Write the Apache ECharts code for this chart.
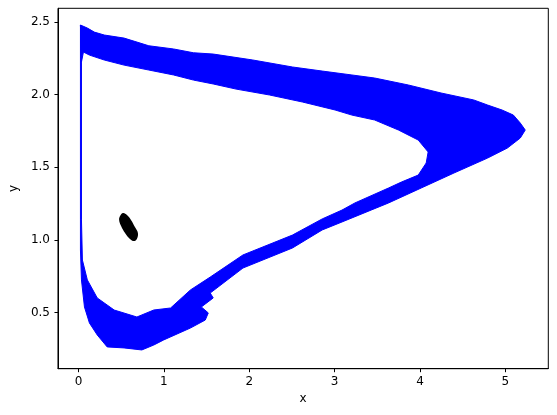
<!DOCTYPE html>
<html>
<head>
<meta charset="utf-8">
<script src="https://cdn.jsdelivr.net/npm/echarts@6/dist/echarts.min.js"></script>
<style>
    html, body { margin: 0; padding: 0; background: #fff; }
    #chart { width: 557px; height: 415px; }
</style>
</head>
<body>
<div id="chart"></div>
<script>
    // outer edge of the blue band (clockwise, from top-left corner)
    var outerX = [0.023, 0.104, 0.186, 0.302, 0.534, 0.824, 1.114, 1.346, 1.578, 2.042, 2.506, 2.854, 3.202, 3.469,
        3.863, 4.246, 4.629, 4.791, 4.960, 5.093, 5.174, 5.232, 5.174, 5.023, 4.791, 4.397, 4.014, 3.631, 3.086, 2.854,
        2.506, 1.926, 1.543, 1.578, 1.439, 1.520, 1.485, 1.311, 0.998, 0.882, 0.742, 0.534, 0.336, 0.220, 0.128,
        0.070, 0.035, 0.023, 0.023];
    var outerY = [2.480, 2.459, 2.431, 2.411, 2.390, 2.337, 2.315, 2.289, 2.280, 2.239, 2.191, 2.163, 2.136, 2.115,
        2.067, 2.012, 1.964, 1.929, 1.895, 1.860, 1.805, 1.757, 1.702, 1.633, 1.564, 1.461, 1.358, 1.255, 1.124, 1.069,
        0.945, 0.807, 0.635, 0.601, 0.539, 0.498, 0.449, 0.394, 0.312, 0.277, 0.243, 0.257, 0.264, 0.346, 0.429,
        0.539, 0.725, 0.931, 1.138];

    // inner edge of the band (same direction, reversed when drawn)
    var innerX = [0.058, 0.128, 0.302, 0.534, 0.824, 1.114, 1.346, 1.578, 1.845, 2.239, 2.622, 3.005, 3.202, 3.469,
        3.747, 3.979, 4.095, 4.072, 3.979, 3.782, 3.631, 3.237, 3.086, 2.854, 2.506, 1.926, 1.543, 1.311, 1.079,
        0.882, 0.684, 0.418, 0.220, 0.104, 0.046, 0.035, 0.035];
    var innerY = [2.294, 2.273, 2.239, 2.204, 2.170, 2.136, 2.101, 2.074, 2.039, 1.998, 1.950, 1.895, 1.860, 1.826,
        1.757, 1.688, 1.606, 1.530, 1.447, 1.399, 1.358, 1.255, 1.206, 1.145, 1.034, 0.897, 0.745, 0.656, 0.532,
        0.518, 0.470, 0.518, 0.601, 0.725, 0.862, 1.138, 2.225];

    // small black blob near the equilibrium
    var blobX = [0.487, 0.522, 0.568, 0.615, 0.661, 0.696, 0.684, 0.650, 0.603, 0.545, 0.499, 0.476];
    var blobY = [1.165, 1.186, 1.172, 1.138, 1.089, 1.048, 1.007, 0.993, 1.007, 1.048, 1.096, 1.138];

    var xTicks = [0, 1, 2, 3, 4, 5];
    var yTicks = [0.5, 1.0, 1.5, 2.0, 2.5];

    function toPoints(api, xs, ys) {
        var pts = [];
        for (var i = 0; i < xs.length; i++) {
            pts.push(api.coord([xs[i], ys[i]]));
        }
        return pts;
    }

    var dom = document.getElementById("chart");
    var myChart = echarts.init(dom, null, {renderer: 'canvas'});
    var option = {
        animation: false,
        backgroundColor: '#fff',
        grid: {
            left: 53.3,
            right: 8.7,
            top: 8.3,
            bottom: 46.3,
            show: true,
            borderColor: '#000',
            borderWidth: 1,
            backgroundColor: 'transparent'
        },
        xAxis: {
            type: 'value',
            min: -0.24,
            max: 5.502,
            name: 'x',
            nameLocation: 'middle',
            nameGap: 23,
            nameTextStyle: {color: '#000', fontSize: 12, fontFamily: 'DejaVu Sans'},
            splitLine: {show: false},
            axisLine: {show: true, onZero: false, lineStyle: {color: '#000', width: 1}},
            axisTick: {show: true, length: 3.5, customValues: xTicks, lineStyle: {color: '#000'}},
            axisLabel: {
                customValues: xTicks,
                margin: 7,
                color: '#000',
                fontSize: 12,
                fontFamily: 'DejaVu Sans',
                formatter: function (v) { return String(v); }
            }
        },
        yAxis: {
            type: 'value',
            min: 0.114,
            max: 2.595,
            name: 'y',
            nameLocation: 'middle',
            nameGap: 36,
            nameRotate: 90,
            nameTextStyle: {color: '#000', fontSize: 12, fontFamily: 'DejaVu Sans'},
            splitLine: {show: false},
            axisLine: {show: true, onZero: false, lineStyle: {color: '#000', width: 1}},
            axisTick: {show: true, length: 3.5, customValues: yTicks, lineStyle: {color: '#000'}},
            axisLabel: {
                customValues: yTicks,
                margin: 8,
                color: '#000',
                fontSize: 12,
                fontFamily: 'DejaVu Sans',
                formatter: function (v) { return v.toFixed(1); }
            }
        },
        series: [
            {
                name: 'band',
                type: 'custom',
                coordinateSystem: 'cartesian2d',
                clip: true,
                data: [[0, 0]],
                renderItem: function (params, api) {
                    var outer = toPoints(api, outerX, outerY);
                    var inner = toPoints(api, innerX, innerY).reverse();
                    // outer loop then inner loop in the other direction -> hole
                    var pts = outer.concat([outer[0]], inner, [inner[0], outer[0]]);
                    return {
                        type: 'polygon',
                        shape: {points: pts},
                        style: {fill: '#0000ff', stroke: '#0000ff', lineWidth: 1, lineJoin: 'round'}
                    };
                }
            },
            {
                name: 'blob',
                type: 'custom',
                coordinateSystem: 'cartesian2d',
                clip: true,
                data: [[0, 0]],
                renderItem: function (params, api) {
                    return {
                        type: 'polygon',
                        shape: {points: toPoints(api, blobX, blobY), smooth: 0.4},
                        style: {fill: '#000', stroke: null}
                    };
                }
            }
        ]
    };
    if (option && typeof option === "object") {
        myChart.setOption(option, true);
    }
</script>
</body>
</html>
